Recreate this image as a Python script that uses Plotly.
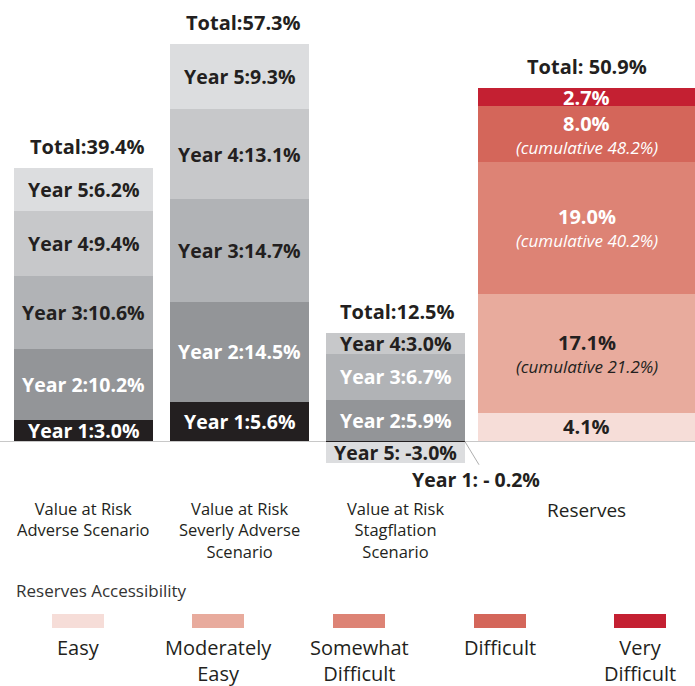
import plotly.graph_objects as go

# ---------------- data ----------------
categories = ["Value at Risk<br>Adverse Scenario",
              "Value at Risk<br>Severly Adverse<br>Scenario",
              "Value at Risk<br>Stagflation<br>Scenario",
              "Reserves"]
year_labels = ["Year 1", "Year 2", "Year 3", "Year 4", "Year 5"]
var_adverse = [3.0, 10.2, 10.6, 9.4, 6.2]
var_severe = [5.6, 14.5, 14.7, 13.1, 9.3]
var_stagflation = [-0.2, 5.9, 6.7, 3.0, -3.0]
reserve_levels = ["Easy", "Moderately<br>Easy", "Somewhat<br>Difficult", "Difficult", "Very<br>Difficult"]
reserves = [4.1, 17.1, 19.0, 8.0, 2.7]
reserves_cumulative = [None, 21.2, 40.2, 48.2, None]
totals = [39.4, 57.3, 12.5, 50.9]
total_labels = ["Total:39.4%", "Total:57.3%", "Total:12.5%", "Total: 50.9%"]

# ---------------- style / layout ----------------
W, H = 695, 686
PX_PER_PCT = 6.94
ZERO_PX = 441
bar_centers = [83.5, 239.5, 395.5, 586.5]
bar_widths = [139, 139, 139, 217]
total_xshift = [4, 4, 2, 0]
year_colors = ["#231f20", "#939598", "#b1b3b6", "#c7c8ca", "#dcdddf"]
reserve_colors = ["#f6ddd8", "#e8ab9d", "#dd8375", "#d4665a", "#c42032"]
DARK = "#231f20"
WHITE = "#ffffff"
FONT = "Open Sans, Noto Sans, sans-serif"
BAR_FS = 19.5
year_text_colors = [
    [WHITE, WHITE, DARK, DARK, DARK],
    [WHITE, WHITE, DARK, DARK, DARK],
    [DARK, WHITE, WHITE, DARK, DARK],
]
reserve_text_colors = [DARK, DARK, WHITE, WHITE, WHITE]

fig = go.Figure()
annotations = []


def stack_centers(values):
    pos, neg = 0.0, 0.0
    centers = []
    for v in values:
        if v >= 0:
            centers.append(pos + v / 2)
            pos += v
        else:
            centers.append(neg + v / 2)
            neg += v
    return centers


var_series = [var_adverse, var_severe, var_stagflation]
for b, vals in enumerate(var_series):
    centers = stack_centers(vals)
    for i, v in enumerate(vals):
        fig.add_trace(go.Bar(
            x=[bar_centers[b]], y=[v], width=[bar_widths[b]],
            marker=dict(color=year_colors[i], line=dict(width=0)),
            showlegend=False, hoverinfo="skip"))
        label = f"{year_labels[i]}:{v:.1f}%" if v >= 0 else f"{year_labels[i]}: {v:.1f}%"
        if b == 2 and i == 0:
            continue
        annotations.append(dict(
            x=bar_centers[b], y=centers[i], xref="x", yref="y", borderpad=0,
            text=f"<b>{label}</b>", showarrow=False,
            font=dict(family=FONT, size=BAR_FS, color=year_text_colors[b][i])))

# stagflation Year 1 callout
annotations.append(dict(
    x=bar_centers[2] + bar_widths[2] / 2, y=var_stagflation[0] / 2, xref="x", yref="y",
    text=" ", showarrow=True, arrowhead=0, arrowwidth=0.8, arrowcolor="#999999",
    ax=17, ay=28))
annotations.append(dict(
    x=bar_centers[2] + bar_widths[2] / 2 + 11, y=var_stagflation[4] + var_stagflation[0], xref="x", yref="y",
    yshift=-16, text=f"<b>{year_labels[0]}: - {abs(var_stagflation[0]):.1f}%</b>", showarrow=False,
    borderpad=0, font=dict(family=FONT, size=BAR_FS, color=DARK)))

# reserves
rc = stack_centers(reserves)
for i, v in enumerate(reserves):
    fig.add_trace(go.Bar(
        x=[bar_centers[3]], y=[v], width=[bar_widths[3]],
        marker=dict(color=reserve_colors[i], line=dict(width=0)),
        showlegend=False, hoverinfo="skip"))
    has_cum = reserves_cumulative[i] is not None
    annotations.append(dict(
        x=bar_centers[3], y=rc[i], xref="x", yref="y", text=f"<b>{v:.1f}%</b>",
        showarrow=False, borderpad=0, yshift=11 if has_cum else 0,
        font=dict(family=FONT, size=20, color=reserve_text_colors[i])))
    if has_cum:
        annotations.append(dict(
            x=bar_centers[3], y=rc[i], xref="x", yref="y",
            text=f"<i>(cumulative {reserves_cumulative[i]:.1f}%)</i>",
            showarrow=False, borderpad=0, yshift=-13,
            font=dict(family=FONT, size=17, color=reserve_text_colors[i])))

# totals
for b, t in enumerate(totals):
    top = max(sum(v for v in ([var_adverse, var_severe, var_stagflation, reserves][b]) if v > 0), 0)
    annotations.append(dict(
        x=bar_centers[b], y=top, xref="x", yref="y", yanchor="bottom", yshift=6,
        xshift=total_xshift[b],
        text=f"<b>{total_labels[b]}</b>", showarrow=False,
        font=dict(family=FONT, size=20, color=DARK)))

# category labels
for b, c in enumerate(categories):
    annotations.append(dict(
        x=bar_centers[b], y=1 - 495 / H, xref="x", yref="paper", yanchor="top",
        text=c, showarrow=False, align="center",
        font=dict(family=FONT, size=16.5 if b < 3 else 19, color=DARK)))

# legend
annotations.append(dict(
    x=14 / W, y=1 - 590 / H, xref="paper", yref="paper", xanchor="left", yanchor="middle",
    text="Reserves Accessibility", showarrow=False,
    font=dict(family=FONT, size=17, color="#333333")))
shapes = []
legend_centers = [78, 218, 359, 500, 640]
for i, lab in enumerate(reserve_levels):
    cx = legend_centers[i]
    shapes.append(dict(type="rect", xref="paper", yref="paper",
                       x0=(cx - 26) / W, x1=(cx + 26) / W,
                       y0=1 - 628 / H, y1=1 - 614 / H,
                       fillcolor=reserve_colors[i], line=dict(width=0)))
    annotations.append(dict(
        x=cx / W, y=1 - 632 / H, xref="paper", yref="paper", xanchor="center", yanchor="top",
        text=lab, showarrow=False, align="center",
        font=dict(family=FONT, size=20, color=DARK)))

fig.update_layout(
    barmode="relative", bargap=0,
    width=W, height=H, margin=dict(l=0, r=0, t=0, b=0),
    paper_bgcolor="white", plot_bgcolor="white",
    xaxis=dict(range=[0, W], showgrid=False, zeroline=False, showticklabels=False, fixedrange=True),
    yaxis=dict(range=[-(H - ZERO_PX) / PX_PER_PCT, ZERO_PX / PX_PER_PCT], showgrid=False,
               zeroline=True, zerolinecolor="#c8c8c8", zerolinewidth=1, showticklabels=False,
               fixedrange=True),
    annotations=annotations, shapes=shapes,
)

fig.write_html("out.html", config={"displayModeBar": False},
               post_script="document.body.style.margin='0';document.body.style.overflow='hidden';")
